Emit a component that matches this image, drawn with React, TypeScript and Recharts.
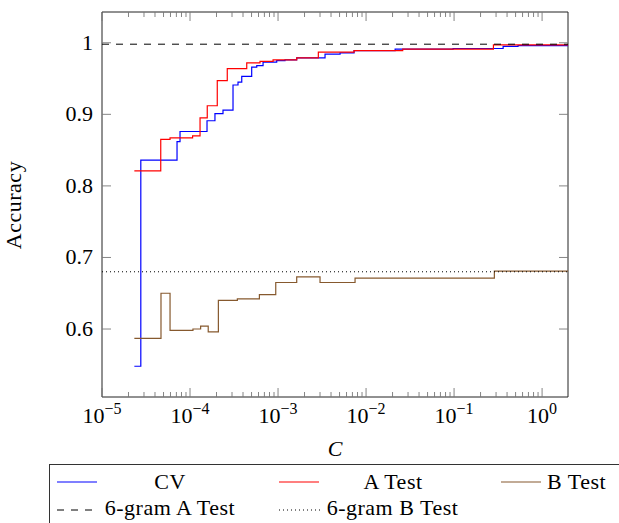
import React from 'react';
import { LineChart, Line, XAxis, YAxis, ReferenceArea } from 'recharts';

// ---------- data ----------
const cvC = [2.33e-5, 2.76e-5, 7.12e-5, 7.7e-5, 1.56e-4, 1.92e-4, 2.37e-4, 3.08e-4, 3.51e-4, 3.87e-4, 5.02e-4, 5.73e-4, 6.76e-4, 9.66e-4, 1.2e-3, 1.63e-3, 3.42e-3, 5.07e-3, 7.31e-3, 2.14e-2, 9.75e-2, 0.361, 0.533, 1.97];
const cvAcc = [0.548, 0.836, 0.862, 0.876, 0.891, 0.901, 0.906, 0.941, 0.945, 0.953, 0.966, 0.968, 0.973, 0.975, 0.976, 0.979, 0.984, 0.986, 0.989, 0.991, 0.992, 0.995, 0.996, 0.996];

const aC = [2.33e-5, 4.65e-5, 5.93e-5, 1.07e-4, 1.3e-4, 1.57e-4, 2.04e-4, 2.65e-4, 4.41e-4, 6.24e-4, 8.78e-4, 1.63e-3, 2.87e-3, 7.31e-3, 2.61e-2, 0.28, 1.97];
const aAcc = [0.821, 0.865, 0.867, 0.87, 0.895, 0.912, 0.947, 0.964, 0.972, 0.974, 0.976, 0.979, 0.987, 0.989, 0.991, 0.997, 0.997];

const bC = [2.33e-5, 4.68e-5, 5.93e-5, 1.08e-4, 1.32e-4, 1.61e-4, 2.1e-4, 3.45e-4, 6.14e-4, 9.42e-4, 1.63e-3, 3.0e-3, 7.5e-3, 0.287, 1.97];
const bAcc = [0.587, 0.65, 0.598, 0.6, 0.604, 0.596, 0.64, 0.642, 0.648, 0.665, 0.673, 0.665, 0.671, 0.681, 0.681];

const gramC = [1e-5, 1.97];
const gramA = [0.998, 0.998];
const gramB = [0.68, 0.68];

const X_MIN = 1e-5;
const X_MAX = 1.97;
const Y_MIN = 0.505;
const Y_MAX = 1.043;

const xMajorTicks = [1e-5, 1e-4, 1e-3, 1e-2, 1e-1, 1];
const xMajorLabels = ['\u22125', '\u22124', '\u22123', '\u22122', '\u22121', '0'];
const xMinorMult = [2, 3, 4, 5, 6, 7, 8, 9];
const yTicks = [0.6, 0.7, 0.8, 0.9, 1];
const yTickLabels = ['0.6', '0.7', '0.8', '0.9', '1'];

const seriesNames = ['CV', 'A Test', 'B Test', '6-gram A Test', '6-gram B Test'];

// ---------- helpers ----------
const toRows = (cs: number[], vs: number[]) => cs.map((c, i) => ({ c, v: vs[i] }));
const cvData = toRows(cvC, cvAcc);
const aData = toRows(aC, aAcc);
const bData = toRows(bC, bAcc);
const gramAData = toRows(gramC, gramA);
const gramBData = toRows(gramC, gramB);

const xTicks: number[] = [];
xMajorTicks.forEach((m) => {
  xTicks.push(m);
  xMinorMult.forEach((k) => {
    const t = m * k;
    if (t < X_MAX) xTicks.push(t);
  });
});
xTicks.sort((a, b) => a - b);

const FONT = '"Liberation Serif", "Times New Roman", serif';
const FS = 22;
const LS = 0.5;
const PLOT_W = 466;
const PLOT_H = 385;
const TICK_COLOR = '#777';
const BLUE = '#0000ff';
const RED = '#ff0000';
const BROWN = '#86592e';

const XTick = (props: any) => {
  const { x, y, payload } = props;
  const v = payload.value;
  const idx = xMajorTicks.findIndex((m) => Math.abs(m - v) / m < 1e-6);
  const major = idx >= 0;
  const len = major ? 9 : 5;
  return (
    <g>
      <line x1={x} x2={x} y1={y} y2={y - len} stroke={TICK_COLOR} strokeWidth={0.9} />
      <line x1={x} x2={x} y1={y - PLOT_H} y2={y - PLOT_H + len} stroke={TICK_COLOR} strokeWidth={0.9} />
      {major && (
        <text x={x} y={y + 26} textAnchor="middle" fontFamily={FONT} fontSize={FS} fill="#000">
          10<tspan dy={-9} fontSize={16}>{xMajorLabels[idx]}</tspan>
        </text>
      )}
    </g>
  );
};

const YTick = (props: any) => {
  const { x, y, payload } = props;
  const idx = yTicks.findIndex((t) => Math.abs(t - payload.value) < 1e-9);
  return (
    <g>
      <line x1={x} x2={x + 9} y1={y} y2={y} stroke={TICK_COLOR} strokeWidth={0.9} />
      <line x1={x + PLOT_W} x2={x + PLOT_W - 9} y1={y} y2={y} stroke={TICK_COLOR} strokeWidth={0.9} />
      <text x={x - 9} y={y} dy={7} textAnchor="end" fontFamily={FONT} fontSize={FS} fill="#000">
        {idx >= 0 ? yTickLabels[idx] : ''}
      </text>
    </g>
  );
};

const Legend = () => {
  const row1 = 482;
  const row2 = 510;
  const txt1 = 488.5;
  const txt2 = 515;
  const common = { fontFamily: FONT, fontSize: FS, fill: '#000', letterSpacing: LS } as any;
  return (
    <svg width={619} height={523} style={{ position: 'absolute', left: 0, top: 0, pointerEvents: 'none' }}>
      <rect x={49.5} y={464.5} width={620} height={100} fill="none" stroke="#333" strokeWidth={1} />
      <line x1={57} x2={97} y1={row1} y2={row1} stroke={BLUE} strokeWidth={1.2} />
      <text x={170} y={txt1} textAnchor="middle" {...common}>{seriesNames[0]}</text>
      <line x1={279} x2={319} y1={row1} y2={row1} stroke={RED} strokeWidth={1.2} />
      <text x={393} y={txt1} textAnchor="middle" {...common}>{seriesNames[1]}</text>
      <line x1={501} x2={541} y1={row1} y2={row1} stroke={BROWN} strokeWidth={1.2} />
      <text x={547} y={txt1} textAnchor="start" {...common}>{seriesNames[2]}</text>
      <line x1={57} x2={93} y1={row2} y2={row2} stroke="#000" strokeWidth={1} strokeDasharray="7 7" />
      <text x={170} y={txt2} textAnchor="middle" {...common}>{seriesNames[3]}</text>
      <line x1={279} x2={321} y1={row2} y2={row2} stroke="#000" strokeWidth={1} strokeDasharray="1 3" />
      <text x={392.5} y={txt2} textAnchor="middle" {...common}>{seriesNames[4]}</text>
    </svg>
  );
};

export default function App() {
  return (
    <div style={{ position: 'absolute', left: 0, top: 0, width: 619, height: 523, background: '#fff' }}>
      <LineChart width={619} height={523} margin={{ top: 12, right: 51, bottom: 86, left: 0 }}>
        <XAxis
          dataKey="c"
          type="number"
          scale="log"
          domain={[X_MIN, X_MAX]}
          allowDataOverflow
          ticks={xTicks}
          interval={0}
          tick={<XTick />}
          tickLine={false}
          axisLine={false}
          tickSize={0}
          tickMargin={0}
          height={40}
          label={{
            content: (p: any) => {
              const vb = p.viewBox || { x: 102, y: 397, width: 466 };
              return (
                <text x={vb.x + vb.width / 2} y={vb.y + 59} textAnchor="middle" fontFamily={FONT} fontStyle="italic" fontSize={FS} fill="#000">
                  C
                </text>
              );
            },
          }}
        />
        <YAxis
          type="number"
          domain={[Y_MIN, Y_MAX]}
          allowDataOverflow
          ticks={yTicks}
          interval={0}
          tick={<YTick />}
          tickLine={false}
          axisLine={false}
          tickSize={0}
          tickMargin={0}
          width={102}
          label={{
            content: () => (
              <text x={21} y={205} transform="rotate(-90 21 205)" textAnchor="middle" fontFamily={FONT} fontSize={FS} letterSpacing={LS} fill="#000">
                Accuracy
              </text>
            ),
          }}
        />
        <Line data={cvData} dataKey="v" type="stepAfter" stroke={BLUE} strokeWidth={1.2} dot={false} activeDot={false} isAnimationActive={false} name={seriesNames[0]} />
        <Line data={aData} dataKey="v" type="stepAfter" stroke={RED} strokeWidth={1.2} dot={false} activeDot={false} isAnimationActive={false} name={seriesNames[1]} />
        <Line data={bData} dataKey="v" type="stepAfter" stroke={BROWN} strokeWidth={1.2} dot={false} activeDot={false} isAnimationActive={false} name={seriesNames[2]} />
        <Line data={gramAData} dataKey="v" type="linear" stroke="#000" strokeWidth={1} strokeDasharray="7 7" dot={false} activeDot={false} isAnimationActive={false} name={seriesNames[3]} />
        <Line data={gramBData} dataKey="v" type="linear" stroke="#000" strokeWidth={1} strokeDasharray="1 3" dot={false} activeDot={false} isAnimationActive={false} name={seriesNames[4]} />
        <ReferenceArea x1={X_MIN} x2={X_MAX} y1={Y_MIN} y2={Y_MAX} fill="none" stroke="#222" strokeWidth={1} ifOverflow="visible" />
      </LineChart>
      <Legend />
    </div>
  );
}
